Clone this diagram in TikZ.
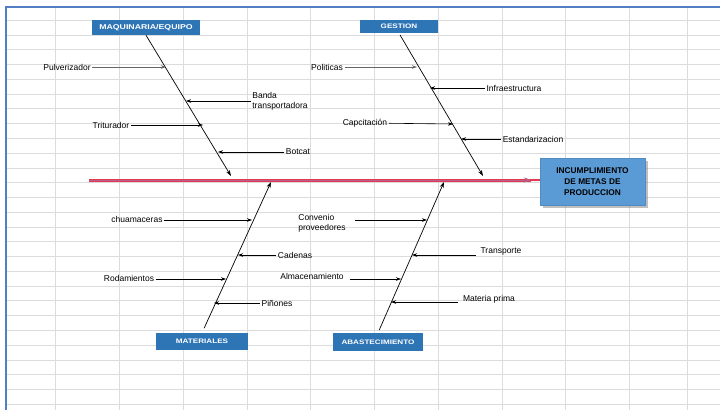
\documentclass[tikz,border=0pt]{standalone}
\usepackage{fontspec}
\setmainfont{Liberation Sans}
\newfontfamily\catfont{Liberation Sans}[FakeStretch=1.25]
\usetikzlibrary{arrows.meta,shadows}

\definecolor{catblue}{RGB}{46,117,182}
\definecolor{effblue}{RGB}{91,155,213}
\definecolor{spinered}{RGB}{226,58,82}
\definecolor{spineblue}{RGB}{185,95,140}
\definecolor{gridgray}{RGB}{220,220,220}
\definecolor{sheetblue}{RGB}{84,126,196}

\begin{document}
\begin{tikzpicture}[x=1pt,y=-1pt,
        cedge/.style={draw,-{Stealth[length=5pt,width=3.5pt]},line width=0.6pt},
        cat/.style={fill=catblue,text=white,inner sep=0pt,font=\fontsize{6.5}{8}\catfont\bfseries},
        cause/.style={inner sep=1.5pt,font=\fontsize{8.5}{10}\selectfont},
        bone/.style={line width=0.7pt,-{Stealth[length=6pt,width=4pt]}},
        spine/.style={draw=spineblue,line width=0.6pt,-{Stealth[length=7pt,width=5pt]},
                      preaction={draw=spinered,line width=3pt,-}}]
        \useasboundingbox (0,0) rectangle (720,410);

        % hoja de calculo
        \foreach \gx in {55,119,183,247,310,374,438,502,565,629,687}
            \draw[gridgray] (\gx,7) -- (\gx,410);
        \foreach \k in {0,...,26}
            \draw[gridgray] (6,20+14.77*\k) -- (720,20+14.77*\k);
        \draw[sheetblue,line width=1.5pt] (720,7) -- (6,7) -- (6,410);

        % efecto y espina
        \node[fill=effblue,draw=effblue!90!black,drop shadow,minimum width=105pt,minimum height=47pt,
              align=center,font=\fontsize{8.3}{10.8}\selectfont\bfseries] at (592.5,181.5) (efecto)
              {INCUMPLIMIENTO\\DE METAS DE\\PRODUCCION};
        \coordinate (spinestart) at (89,180);
        \coordinate (spineend) at (531,180);
        \draw[gray!30,line width=1.5pt] ([yshift=-1.8pt]spinestart) -- ([yshift=-1.8pt]spineend);
        \draw[draw=spinered,line width=1.4pt] (spineend) -- (efecto.west |- spineend);
        \draw[spine] (spinestart) -- (spineend);

        % categorias
        \node[cat,font=\fontsize{7}{8}\catfont\bfseries,minimum width=108pt,minimum height=15pt] at (146,27.5) (maq) {MAQUINARIA/EQUIPO};
        \node[cat,minimum width=78pt,minimum height=13pt] at (399,26.5) (ges) {GESTION};
        \node[cat,minimum width=92pt,minimum height=17pt] at (202,341.5) (mat) {MATERIALES};
        \node[cat,minimum width=90pt,minimum height=18pt] at (378,342) (aba) {ABASTECIMIENTO};

        \coordinate (maqend) at (231,176);
        \coordinate (gesend) at (483,176);
        \coordinate (matend) at (271,182);
        \coordinate (abaend) at (444,182);
        \draw[bone] (maq.south) -- (maqend);
        \draw[bone,shorten <=2pt] (ges.south) -- (gesend);
        \draw[bone,shorten <=5pt] (mat.north) -- (matend);
        \draw[bone,shorten <=3pt] (aba.north) -- (abaend);

        % maquinaria/equipo
        \coordinate (pulvend) at (166,67);
        \coordinate (bandaend) at (186,101);
        \coordinate (tritend) at (203,125);
        \coordinate (botend) at (218,152);
        \node[cause] at (67,67) (pulv) {Pulverizador};
        \node[cause,align=left] at (280,101) (banda) {Banda\\transportadora};
        \node[cause] at (111,125) (trit) {Triturador};
        \node[cause] at (298,152) (bot) {Botcat};
        \draw[cedge,line width=1pt,gray!80!black] (pulv) -- (pulvend);
        \draw[cedge] (banda.west |- bandaend) -- (bandaend);
        \draw[cedge] (trit) -- (tritend);
        \draw[cedge] (bot) -- (botend);

        % gestion
        \coordinate (polend) at (417,67);
        \coordinate (infend) at (430,88);
        \coordinate (capend) at (453,124);
        \coordinate (estend) at (461,139);
        \node[cause] at (327,67) (pol) {Politicas};
        \node[cause] at (514,88) (inf) {Infraestructura};
        \node[cause] at (365,123) (cap) {Capcitación};
        \node[cause] at (533,139) (est) {Estandarizacion};
        \draw[cedge,line width=1pt,gray!80!black] (pol) -- (polend);
        \draw[cedge] (inf) -- (infend);
        \draw[cedge] (cap) -- (capend);
        \draw[cedge] (est) -- (estend);

        % materiales
        \coordinate (chuend) at (252,220);
        \coordinate (cadend) at (238,255);
        \coordinate (rodend) at (226,279);
        \coordinate (pinend) at (214,303);
        \node[cause] at (137,219) (chu) {chuamaceras};
        \node[cause] at (295,255) (cad) {Cadenas};
        \node[cause] at (129,278) (rod) {Rodamientos};
        \node[cause] at (277,303) (pin) {Piñones};
        \draw[cedge] (chu.east |- chuend) -- (chuend);
        \draw[cedge] (cad) -- (cadend);
        \draw[cedge] (rod.east |- rodend) -- (rodend);
        \draw[cedge] (pin) -- (pinend);

        % abastecimiento
        \coordinate (convend) at (427,220);
        \coordinate (traend) at (412,255);
        \coordinate (almend) at (401,279);
        \coordinate (matpend) at (391,302);
        \node[cause,align=left] at (322,223) (conv) {Convenio\\proveedores};
        \node[cause] at (501,251) (tra) {Transporte};
        \node[cause] at (312,276) (alm) {Almacenamiento};
        \node[cause] at (489,299) (matp) {Materia prima};
        \draw[cedge,shorten <=8pt] (conv.east |- convend) -- (convend);
        \draw[cedge,shorten <=3pt] (tra.west |- traend) -- (traend);
        \draw[cedge,shorten <=5pt] (alm.east |- almend) -- (almend);
        \draw[cedge,shorten <=3pt] (matp.west |- matpend) -- (matpend);
    \end{tikzpicture}
\end{document}
